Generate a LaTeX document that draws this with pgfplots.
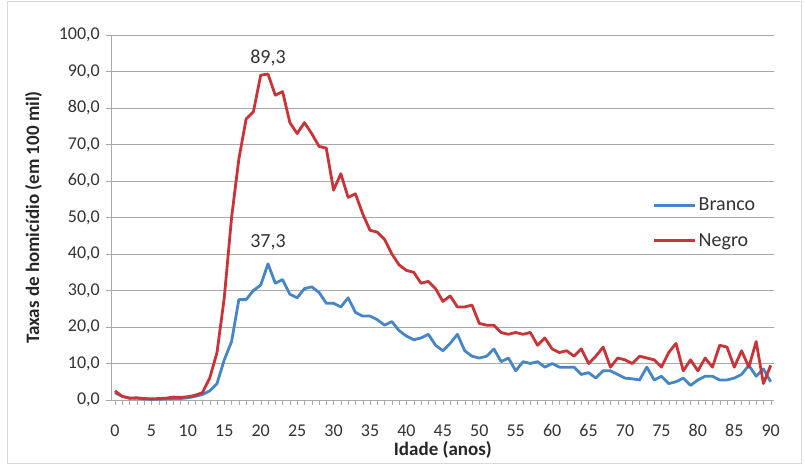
\documentclass[border=0pt]{standalone}
\usepackage{fontspec}
\setmainfont{Carlito}
\usepackage{pgfplots}
\pgfplotsset{compat=1.18}
\definecolor{cblue}{RGB}{70,134,196}
\definecolor{cred}{RGB}{200,52,56}
\definecolor{cgrid}{RGB}{170,170,170}
\begin{document}
\begin{tikzpicture}[x=1pt,y=1pt]
\useasboundingbox (0,0) rectangle (805,464);
\draw[black!15] (7,1) rectangle (801,463);
\begin{axis}[
  at={(115pt,64pt)}, anchor=origin,
  scale only axis, width=663pt, height=365pt,
  xmin=-0.5, xmax=90.5, ymin=0, ymax=100,
  axis x line=bottom, axis y line=left,
  axis line style={cgrid, -},
  xtick={0,5,...,90}, minor xtick={0,1,...,90},
  ytick={0,10,...,100},
  ymajorgrids, grid style={cgrid, line width=0.8pt},
  tick align=outside, major tick length=5pt, minor tick length=5pt,
  tick style={cgrid},
  /pgf/number format/assume math mode=true,
  yticklabel={\pgfmathprintnumber[fixed,fixed zerofill,precision=1,use comma,1000 sep={},assume math mode=true]{\tick}},
  ticklabel style={font=\fontsize{18}{21}\selectfont, text=black!80},
  xticklabel style={yshift=-16pt},
  yticklabel style={xshift=-3pt},
  xlabel={\textbf{Idade (anos)}},
  ylabel={\textbf{Taxas de homicídio (em 100 mil)}},
  label style={font=\fontsize{19}{22}\selectfont, text=black!85},
  xlabel style={yshift=2pt},
  ylabel style={yshift=10pt},
  legend style={draw=none, fill=none, at={(0.812,0.565)}, anchor=north west,
    font=\fontsize{20}{23}\selectfont, text=black!80, row sep=17pt, legend cell align=left,
    /tikz/every even column/.append style={column sep=0pt}},
  legend image code/.code={\draw[#1] (0pt,0pt) -- (41pt,0pt);},
  clip=false,
]
\addplot[cblue, line width=2.8pt, line join=round] coordinates {
(0,2.0)(1,1.0)(2,0.5)(3,0.5)(4,0.3)(5,0.2)(6,0.2)(7,0.3)(8,0.4)(9,0.4)
(10,0.6)(11,1.0)(12,1.5)(13,2.5)(14,4.5)(15,11)(16,16)(17,27.5)(18,27.5)(19,30)
(20,31.5)(21,37.3)(22,32)(23,33)(24,29)(25,28)(26,30.5)(27,31)(28,29.5)(29,26.5)
(30,26.5)(31,25.5)(32,28)(33,24)(34,23)(35,23)(36,22)(37,20.5)(38,21.5)(39,19)
(40,17.5)(41,16.5)(42,17)(43,18)(44,15)(45,13.5)(46,15.5)(47,18)(48,13.5)(49,12)
(50,11.5)(51,12)(52,14)(53,10.5)(54,11.5)(55,8)(56,10.5)(57,10)(58,10.5)(59,9)
(60,10)(61,9)(62,9)(63,9)(64,7)(65,7.5)(66,6)(67,8)(68,8)(69,7)
(70,6)(71,5.8)(72,5.5)(73,9)(74,5.5)(75,6.5)(76,4.5)(77,5)(78,6)(79,4)
(80,5.5)(81,6.5)(82,6.5)(83,5.5)(84,5.5)(85,6)(86,7)(87,9.5)(88,6.5)(89,8.5)(90,5)
};
\addlegendentry{Branco}
\addplot[cred, line width=2.8pt, line join=round] coordinates {
(0,2.5)(1,1.0)(2,0.5)(3,0.6)(4,0.4)(5,0.3)(6,0.4)(7,0.5)(8,0.8)(9,0.7)
(10,0.9)(11,1.3)(12,2.0)(13,6.0)(14,13)(15,28)(16,50)(17,66)(18,77)(19,79)
(20,89)(21,89.3)(22,83.5)(23,84.5)(24,76)(25,73)(26,76)(27,73)(28,69.5)(29,69)
(30,57.5)(31,62)(32,55.5)(33,56.5)(34,51)(35,46.5)(36,46)(37,44)(38,40)(39,37)
(40,35.5)(41,35)(42,32)(43,32.5)(44,30.5)(45,27)(46,28.5)(47,25.5)(48,25.5)(49,26)
(50,21)(51,20.5)(52,20.5)(53,18.5)(54,18)(55,18.5)(56,18)(57,18.5)(58,15)(59,17)
(60,14)(61,13)(62,13.5)(63,12)(64,14)(65,10)(66,12)(67,14.5)(68,9)(69,11.5)
(70,11)(71,10)(72,12)(73,11.5)(74,11)(75,9)(76,13)(77,15.5)(78,8)(79,11)
(80,8)(81,11.5)(82,9)(83,15)(84,14.5)(85,9)(86,13.5)(87,9)(88,16)(89,4.5)(90,9.5)
};
\addlegendentry{Negro}
\node[font=\fontsize{20}{23}\selectfont, text=black!80, anchor=south] at (axis cs:21,89.3) [yshift=4pt] {89,3};
\node[font=\fontsize{20}{23}\selectfont, text=black!80, anchor=south] at (axis cs:21,37.3) [yshift=10pt] {37,3};
\end{axis}
\end{tikzpicture}
\end{document}
